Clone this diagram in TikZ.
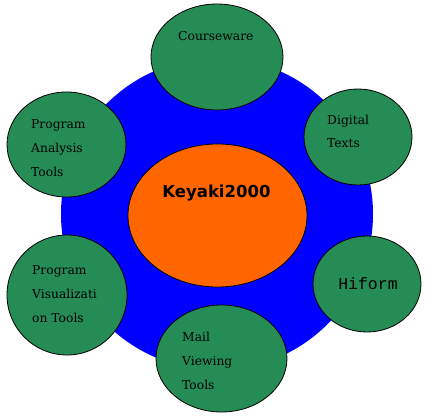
\documentclass[tikz,border=0pt]{standalone}
\usepackage{fontspec}
\usetikzlibrary{shapes.geometric}
\newfontfamily\lblfont{DejaVu Serif}
\newfontfamily\monofont{Liberation Mono}
\newfontfamily\boldsans{DejaVu Sans}
\definecolor{leaf}{RGB}{38,140,86}
\definecolor{core}{RGB}{255,102,0}
\begin{document}
\begin{tikzpicture}[x=1pt,y=-1pt,
  ring/.style={ellipse,draw=black,line width=0.8pt,fill=leaf,inner sep=0pt},
  lbl/.style={anchor=base west,inner sep=0pt,align=left,font=\lblfont\fontsize{12.3}{24}\selectfont}]
\useasboundingbox (0,0) rectangle (440,420);
\node[circle,fill=blue,minimum size=312pt,inner sep=0pt] (hub) at (217,214) {};
\node[ellipse,draw=black,line width=0.8pt,fill=core,minimum width=179pt,minimum height=143pt,inner sep=0pt] (center) at (217.5,215.5) {};
\node[anchor=base,inner sep=0pt,font=\boldsans\bfseries\fontsize{16.5}{18}\selectfont] (title) at (216.5,197) {Keyaki2000};
\node[ring,minimum width=132pt,minimum height=106pt] (cw) at (217,57) {};
\node[ring,minimum width=119pt,minimum height=105pt] (pa) at (66.5,144.5) {};
\node[ring,minimum width=108pt,minimum height=96pt] (dt) at (358,137) {};
\node[ring,minimum width=120pt,minimum height=120pt] (pv) at (67,295) {};
\node[ring,minimum width=131pt,minimum height=107pt] (mv) at (221.5,358.5) {};
\node[ring,minimum width=108pt,minimum height=96pt] (hf) at (367,284) {};
\node[lbl] (cwt) at (178,41) {Courseware};
\node[lbl] (pat) at (31,176) {Program\\Analysis\\Tools};
\node[lbl] (dtt) at (327,148) {Digital\\Texts};
\node[lbl] (pvt) at (32,322) {Program\\Visualizati\\on Tools};
\node[lbl] (mvt) at (182,389) {Mail\\Viewing\\Tools};
\node[anchor=base,inner sep=0pt,font=\monofont\fontsize{16.5}{18}\selectfont] (hft) at (368,289) {Hiform};
\end{tikzpicture}
\end{document}
